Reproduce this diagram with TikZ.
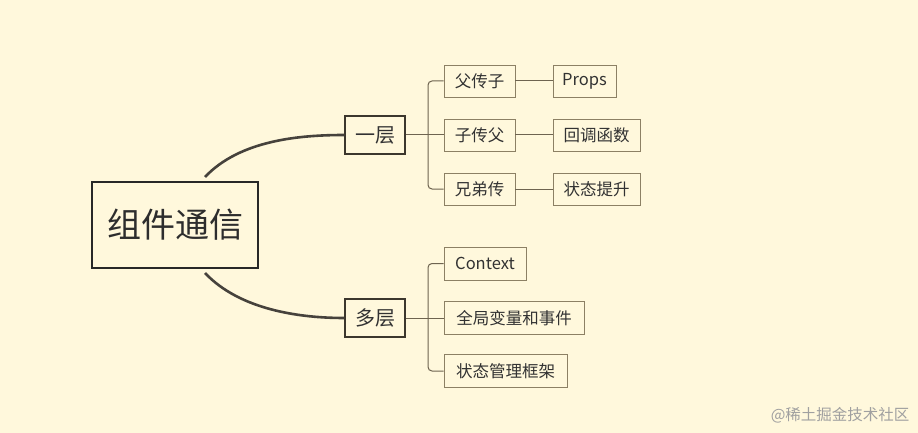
\documentclass[tikz,border=0pt]{standalone}
\usepackage{fontspec}
\setmainfont{Noto Sans CJK SC}
\begin{document}
\begin{tikzpicture}[x=1pt,y=-1pt,
  bg/.style={fill={rgb,255:red,255;green,248;blue,220}},
  leaf/.style={draw={rgb,255:red,140;green,128;blue,100},line width=0.9pt,fill={rgb,255:red,255;green,248;blue,220},minimum height=32pt,inner sep=0pt,font=\fontsize{16.5}{18}\selectfont,text={rgb,255:red,50;green,50;blue,50}},
  mid/.style={draw={rgb,255:red,60;green,55;blue,45},line width=1.3pt,fill={rgb,255:red,255;green,248;blue,220},minimum width=60pt,minimum height=38pt,inner sep=0pt,font=\fontsize{20}{22}\selectfont,text={rgb,255:red,50;green,50;blue,50}},
  root/.style={draw={rgb,255:red,40;green,40;blue,40},line width=2pt,fill={rgb,255:red,255;green,248;blue,220},minimum width=166pt,minimum height=86pt,inner sep=0pt,font=\fontsize{34}{38}\selectfont,text={rgb,255:red,45;green,45;blue,45}},
  conn/.style={draw={rgb,255:red,110;green,100;blue,80},line width=1pt,rounded corners=4pt},
  main/.style={draw={rgb,255:red,70;green,66;blue,60},line width=2.6pt}
]
\path[bg] (0,0) rectangle (918,433);
\useasboundingbox (0,0) rectangle (918,433);

\node[root] (r) at (175,225) {组件通信};
\node[mid] (a) at (375,135) {一层};
\node[mid] (b) at (375,318) {多层};

\node[leaf,minimum width=71pt] (a1) at (479.5,81) {父传子};
\node[leaf,minimum width=71pt] (a2) at (479.5,135) {子传父};
\node[leaf,minimum width=71pt] (a3) at (479.5,189) {兄弟传};
\node[leaf,minimum width=63pt] (p1) at (584.5,81) {Props};
\node[leaf,minimum width=87pt] (p2) at (596.5,135) {回调函数};
\node[leaf,minimum width=87pt] (p3) at (596.5,189) {状态提升};

\node[leaf,minimum width=82pt,minimum height=33pt] (b1) at (485,263.5) {Context};
\node[leaf,minimum width=140pt,minimum height=33pt] (b2) at (514,318) {全局变量和事件};
\node[leaf,minimum width=123pt,minimum height=33pt] (b3) at (505.5,371) {状态管理框架};

\node[font=\fontsize{15.5}{17}\selectfont,text={rgb,255:red,160;green,160;blue,160},anchor=east] (wm) at (913,415) {@稀土掘金技术社区};

\coordinate (rt) at (205,177);
\coordinate (rb) at (205,273);
\draw[main] (rt) .. controls (240,140) and (300,135) .. (a.west);
\draw[main] (rb) .. controls (240,310) and (300,318) .. (b.west);

\draw[conn] (a.east) -- (a2.west);
\draw[conn] (a1.west) -- (428,81) -- (428,189) -- (a3.west);
\draw[conn] (a1.east) -- (p1.west);
\draw[conn] (a2.east) -- (p2.west);
\draw[conn] (a3.east) -- (p3.west);
\draw[conn] (b.east) -- (b2.west);
\draw[conn] (b1.west) -- (428,263.5) -- (428,371) -- (b3.west);
\end{tikzpicture}
\end{document}
